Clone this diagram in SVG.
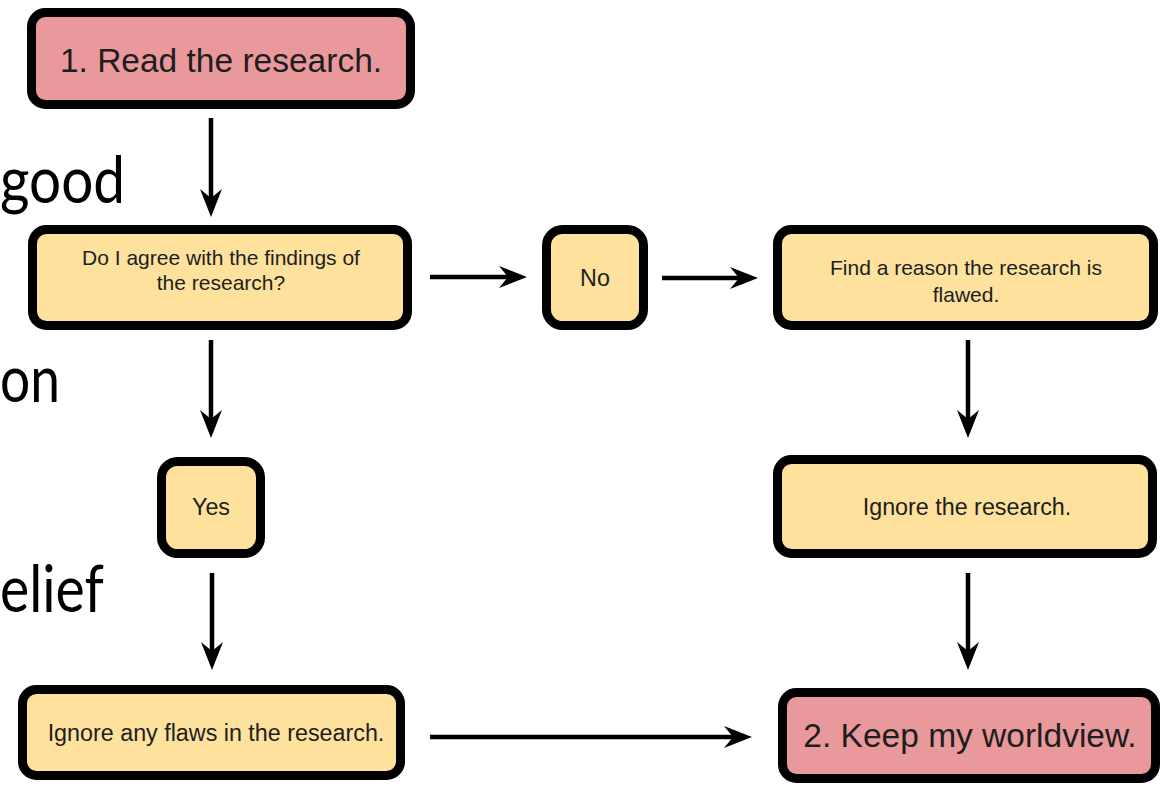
<svg xmlns="http://www.w3.org/2000/svg" width="1166" height="787" viewBox="0 0 1166 787">
<style>
.box{stroke:#000;stroke-width:9}
.pink{fill:#E9999B}
.yellow{fill:#FDE19D}
.t{font-family:"Liberation Sans",Arial,sans-serif;fill:#1e1e1e;text-anchor:middle}
.big{font-size:33.5px}
.sm{font-size:21px}
.sm1{font-size:23.3px}
.bg{font-family:Lato,"Open Sans",sans-serif;font-size:66px;fill:#000;text-anchor:start}
.c{stroke:#000;stroke-width:4.5;fill:none;marker-end:url(#ah)}
</style>
<defs>
<marker id="ah" markerUnits="userSpaceOnUse" viewBox="0 0 28 22" markerWidth="28" markerHeight="22" refX="16" refY="11" orient="auto">
<path d="M0,0 L28,11 L0,22 L9,11 Z" fill="#000"/>
</marker>
</defs>
<rect width="1166" height="787" fill="#fff"/>
<g id="background-text">
<text class="bg" x="0" y="203" textLength="125" lengthAdjust="spacingAndGlyphs">good</text>
<text class="bg" x="0" y="402" textLength="60" lengthAdjust="spacingAndGlyphs">on</text>
<text class="bg" x="0" y="612" textLength="104" lengthAdjust="spacingAndGlyphs">elief</text>
</g>
<g id="connectors">
<path class="c" d="M211,118 V205"/>
<path class="c" d="M211,340 V426"/>
<path class="c" d="M212,573 V658"/>
<path class="c" d="M430,277 H515"/>
<path class="c" d="M662,278 H746"/>
<path class="c" d="M968,340 V426"/>
<path class="c" d="M968,573 V658"/>
<path class="c" d="M430,737 H740"/>
</g>
<g id="n1">
<rect class="box pink" x="31.5" y="12.5" width="379" height="92" rx="14"/>
<text class="t big" x="221" y="72">1. Read the research.</text>
</g>
<g id="n2">
<rect class="box yellow" x="32.5" y="229.5" width="375" height="96" rx="14"/>
<text class="t sm" x="221" y="265">Do I agree with the findings of</text>
<text class="t sm" x="221" y="290">the research?</text>
</g>
<g id="n-no">
<rect class="box yellow" x="546.5" y="229.5" width="97" height="96" rx="16"/>
<text class="t sm1" x="595" y="286">No</text>
</g>
<g id="n-find">
<rect class="box yellow" x="777.5" y="229.5" width="376" height="96" rx="14"/>
<text class="t sm" x="966" y="275">Find a reason the research is</text>
<text class="t sm" x="966" y="302">flawed.</text>
</g>
<g id="n-yes">
<rect class="box yellow" x="161.5" y="461.5" width="99" height="92" rx="16"/>
<text class="t sm1" x="211" y="515">Yes</text>
</g>
<g id="n-ignore">
<rect class="box yellow" x="777.5" y="459.5" width="375" height="94" rx="14"/>
<text class="t sm1" x="967" y="515">Ignore the research.</text>
</g>
<g id="n-flaws">
<rect class="box yellow" x="22.5" y="689.5" width="378" height="86" rx="14"/>
<text class="t sm1" x="216" y="741">Ignore any flaws in the research.</text>
</g>
<g id="n-keep">
<rect class="box pink" x="782.5" y="692.5" width="373" height="86" rx="14"/>
<text class="t big" x="970" y="747">2. Keep my worldview.</text>
</g>
</svg>
